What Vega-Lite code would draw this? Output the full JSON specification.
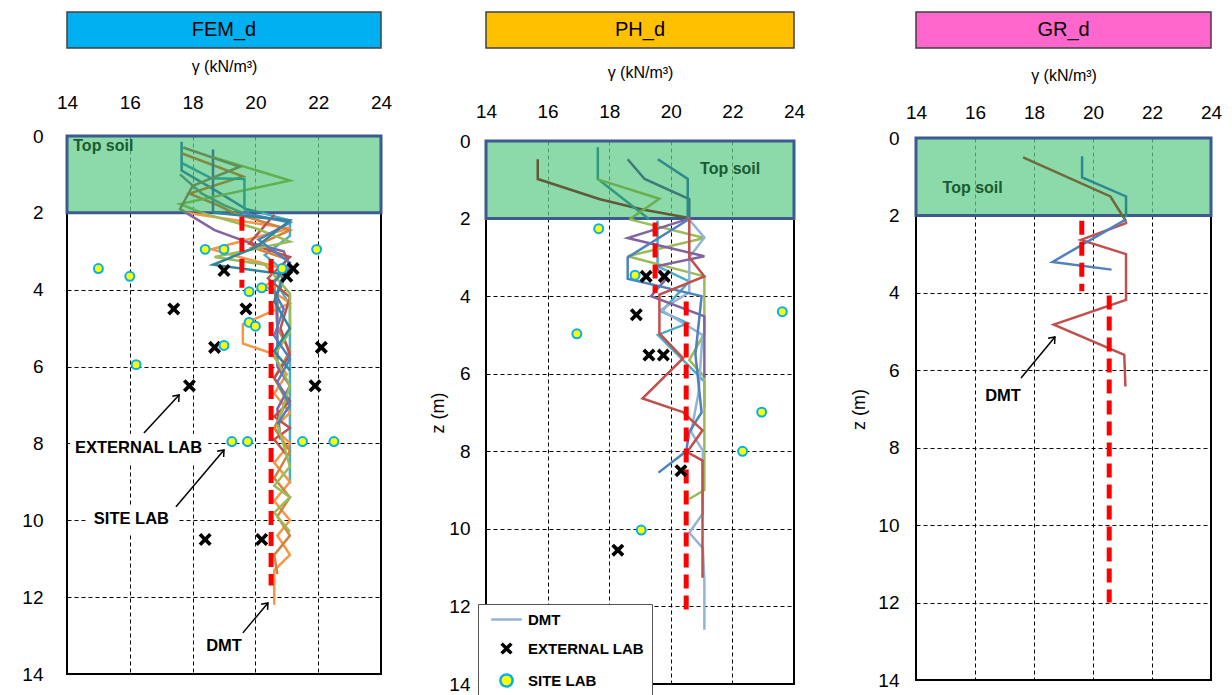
{
 "$schema": "https://vega.github.io/schema/vega-lite/v6.json",
 "padding": {"left": 20, "top": 11, "right": 5, "bottom": 5},
 "background": "white",
 "config": {
  "font": "Liberation Sans",
  "view": {"stroke": "black", "strokeWidth": 2},
  "axis": {"domain": false, "ticks": false, "grid": true, "gridColor": "#000000", "gridDash": [4, 3], "gridWidth": 1, "gridOpacity": 1, "labelFontSize": 19, "labelColor": "#000000", "labelFont": "Liberation Sans", "titleFont": "Liberation Sans", "titleFontWeight": "normal", "titleColor": "#000000", "labelFlush": false}
 },
 "datasets": {
  "soil": [{"x": 14, "x2": 24, "z": 0, "z2": 2}],
  "p1lines": [
   {"s":"t1","x":17.65,"z":0.15},{"s":"t1","x":17.65,"z":0.9},{"s":"t1","x":18.7,"z":1.4},{"s":"t1","x":19.7,"z":1.9},{"s":"t1","x":20.2,"z":2.0},
   {"s":"t2","x":17.65,"z":0.45},{"s":"t2","x":19.6,"z":1.05},{"s":"t2","x":17.9,"z":1.5},{"s":"t2","x":18.8,"z":1.8},{"s":"t2","x":19.3,"z":2.0},
   {"s":"t3","x":18.65,"z":0.35},{"s":"t3","x":18.65,"z":1.95},{"s":"t3","x":18.7,"z":2.0},
   {"s":"t4","x":18.65,"z":0.55},{"s":"t4","x":21.1,"z":1.16},{"s":"t4","x":17.6,"z":1.77},{"s":"t4","x":18.3,"z":2.0},
   {"s":"t5","x":17.65,"z":0.7},{"s":"t5","x":18.6,"z":1.1},{"s":"t5","x":19.65,"z":1.12},{"s":"t5","x":19.65,"z":1.9},{"s":"t5","x":19.8,"z":2.0},
   {"s":"t6","x":17.6,"z":1.0},{"s":"t6","x":18.3,"z":1.5},{"s":"t6","x":19.0,"z":1.8},{"s":"t6","x":19.6,"z":2.0},
   {"s":"t7","x":17.7,"z":0.3},{"s":"t7","x":19.5,"z":0.8},{"s":"t7","x":18.0,"z":1.3},{"s":"t7","x":17.6,"z":1.9},{"s":"t7","x":17.8,"z":2.0},
   {"s":"a","x":20.2,"z":2.0},{"s":"a","x":21.1,"z":2.2},{"s":"a","x":21.1,"z":2.6},{"s":"a","x":20.3,"z":3.1},{"s":"a","x":20.9,"z":3.5},{"s":"a","x":20.8,"z":4.0},{"s":"a","x":21.1,"z":4.4},{"s":"a","x":21.1,"z":9.05},
   {"s":"b","x":17.8,"z":2.0},{"s":"b","x":21.1,"z":2.4},{"s":"b","x":18.6,"z":2.95},{"s":"b","x":21.1,"z":3.5},{"s":"b","x":20.3,"z":3.9},{"s":"b","x":21.1,"z":4.35},{"s":"b","x":19.6,"z":4.9},{"s":"b","x":19.6,"z":5.4},{"s":"b","x":20.5,"z":5.65},{"s":"b","x":21.0,"z":6.2},{"s":"b","x":20.6,"z":6.7},{"s":"b","x":21.1,"z":7.2},{"s":"b","x":20.6,"z":7.6},{"s":"b","x":21.1,"z":8.0},{"s":"b","x":20.6,"z":8.5},{"s":"b","x":21.1,"z":9.0},{"s":"b","x":20.6,"z":9.5},{"s":"b","x":21.1,"z":10.0},{"s":"b","x":20.7,"z":10.4},{"s":"b","x":21.1,"z":10.9},{"s":"b","x":20.6,"z":11.3},{"s":"b","x":20.6,"z":12.2},
   {"s":"c","x":19.3,"z":2.0},{"s":"c","x":21.1,"z":2.45},{"s":"c","x":19.9,"z":2.9},{"s":"c","x":21.0,"z":3.2},{"s":"c","x":20.6,"z":3.8},{"s":"c","x":20.7,"z":5.0},{"s":"c","x":21.1,"z":5.6},{"s":"c","x":20.6,"z":6.3},{"s":"c","x":21.0,"z":6.9},{"s":"c","x":20.6,"z":7.6},{"s":"c","x":21.1,"z":8.2},{"s":"c","x":20.6,"z":8.9},{"s":"c","x":21.1,"z":9.4},{"s":"c","x":20.7,"z":9.9},{"s":"c","x":21.1,"z":10.4},{"s":"c","x":20.6,"z":10.9},{"s":"c","x":20.7,"z":11.4},
   {"s":"d","x":17.8,"z":2.0},{"s":"d","x":18.7,"z":2.45},{"s":"d","x":19.7,"z":2.75},{"s":"d","x":20.9,"z":3.0},{"s":"d","x":21.1,"z":3.4},{"s":"d","x":20.7,"z":4.1},{"s":"d","x":20.7,"z":6.0},{"s":"d","x":21.1,"z":6.5},{"s":"d","x":20.7,"z":7.1},{"s":"d","x":20.8,"z":7.9},
   {"s":"e","x":20.6,"z":2.05},{"s":"e","x":19.8,"z":2.8},{"s":"e","x":21.1,"z":3.15},{"s":"e","x":20.4,"z":3.7},{"s":"e","x":21.1,"z":4.2},{"s":"e","x":20.8,"z":5.0},{"s":"e","x":21.1,"z":5.7},{"s":"e","x":20.6,"z":6.3},{"s":"e","x":21.1,"z":6.9},{"s":"e","x":20.6,"z":7.3},{"s":"e","x":21.1,"z":7.6},{"s":"e","x":20.6,"z":7.9},{"s":"e","x":21.0,"z":8.3},
   {"s":"f","x":18.3,"z":2.0},{"s":"f","x":20.0,"z":2.4},{"s":"f","x":21.1,"z":2.75},{"s":"f","x":18.7,"z":3.15},{"s":"f","x":20.3,"z":3.35},{"s":"f","x":21.1,"z":4.1},{"s":"f","x":21.1,"z":5.1},{"s":"f","x":20.6,"z":5.7},{"s":"f","x":21.1,"z":6.5},{"s":"f","x":20.7,"z":7.5},{"s":"f","x":21.1,"z":8.6},{"s":"f","x":20.6,"z":9.1},{"s":"f","x":21.1,"z":9.4},{"s":"f","x":20.6,"z":9.8},{"s":"f","x":21.1,"z":10.3},
   {"s":"g","x":19.6,"z":2.0},{"s":"g","x":21.1,"z":2.25},{"s":"g","x":20.1,"z":2.7},{"s":"g","x":21.1,"z":3.3},{"s":"g","x":20.5,"z":3.9},{"s":"g","x":20.9,"z":4.5},{"s":"g","x":20.6,"z":5.2},{"s":"g","x":21.1,"z":5.8},{"s":"g","x":20.7,"z":6.4},{"s":"g","x":21.1,"z":7.0},{"s":"g","x":20.7,"z":7.5},
   {"s":"h","x":18.7,"z":2.0},{"s":"h","x":21.1,"z":2.2},{"s":"h","x":20.0,"z":2.9},{"s":"h","x":18.65,"z":3.35},{"s":"h","x":20.9,"z":3.6},{"s":"h","x":20.6,"z":4.3},{"s":"h","x":21.1,"z":5.0},{"s":"h","x":20.6,"z":5.6},{"s":"h","x":21.1,"z":6.1}
  ],
  "p1red": [{"x": 19.57, "z1": 2.1, "z2": 3.95}, {"x": 20.5, "z1": 3.2, "z2": 11.7}],
  "p1ext": [{"x":19.0,"z":3.5},{"x":21.2,"z":3.45},{"x":21.0,"z":3.65},{"x":17.4,"z":4.5},{"x":19.7,"z":4.5},{"x":18.7,"z":5.5},{"x":22.1,"z":5.5},{"x":17.9,"z":6.5},{"x":21.9,"z":6.5},{"x":18.4,"z":10.5},{"x":20.2,"z":10.5}],
  "p1site": [{"x":15.0,"z":3.45},{"x":16.0,"z":3.65},{"x":18.4,"z":2.95},{"x":19.0,"z":2.95},{"x":21.95,"z":2.95},{"x":20.85,"z":3.45},{"x":19.8,"z":4.05},{"x":20.2,"z":3.95},{"x":19.8,"z":4.85},{"x":20.0,"z":4.95},{"x":19.0,"z":5.45},{"x":16.2,"z":5.95},{"x":19.25,"z":7.95},{"x":19.75,"z":7.95},{"x":21.5,"z":7.95},{"x":22.5,"z":7.95}],
  "p1txt": [{"t":"EXTERNAL LAB","x":16.28,"z":8.12},{"t":"SITE LAB","x":16.05,"z":9.97},{"t":"DMT","x":19.0,"z":13.27}],
  "p1bg": [{"x":14.1,"x2":18.5,"z":7.75,"z2":8.5},{"x":14.6,"x2":17.5,"z":9.6,"z2":10.35}],
  "p1arr": [{"x":16.45,"z":7.73,"x2":17.57,"z2":6.74},{"x":17.47,"z":9.65,"x2":19.0,"z2":8.17},{"x":19.6,"z":12.93,"x2":20.4,"z2":12.15}],
  "p1soil": [{"t":"Top soil","x":14.2,"z":0.25}],
  "p2lines": [
   {"s":"u1","x":15.68,"z":0.47},{"s":"u1","x":15.68,"z":0.98},{"s":"u1","x":17.7,"z":1.5},{"s":"u1","x":19.04,"z":1.76},{"s":"u1","x":20.55,"z":1.98},
   {"s":"u2","x":17.63,"z":0.16},{"s":"u2","x":17.63,"z":0.98},{"s":"u2","x":19.3,"z":2.02},
   {"s":"u3","x":17.63,"z":0.99},{"s":"u3","x":19.63,"z":1.49},{"s":"u3","x":18.66,"z":2.02},
   {"s":"u4","x":18.6,"z":0.47},{"s":"u4","x":19.15,"z":0.98},{"s":"u4","x":20.6,"z":1.5},{"s":"u4","x":20.6,"z":1.98},
   {"s":"u5","x":19.58,"z":0.47},{"s":"u5","x":20.55,"z":0.98},{"s":"u5","x":20.55,"z":1.98},
   {"s":"vc","x":19.57,"z":2.05},{"s":"vc","x":19.57,"z":3.23},{"s":"vc","x":20.6,"z":3.62},{"s":"vc","x":19.7,"z":4.4},{"s":"vc","x":20.55,"z":4.7},{"s":"vc","x":19.58,"z":5.0},{"s":"vc","x":21.09,"z":6.2},{"s":"vc","x":21.09,"z":6.86},
   {"s":"vg","x":18.66,"z":2.02},{"s":"vg","x":21.09,"z":2.5},{"s":"vg","x":18.6,"z":2.97},{"s":"vg","x":21.09,"z":3.49},{"s":"vg","x":21.09,"z":4.96},{"s":"vg","x":20.6,"z":5.65},{"s":"vg","x":21.09,"z":6.08},{"s":"vg","x":21.09,"z":9.0},{"s":"vg","x":20.6,"z":9.23},
   {"s":"vl","x":20.55,"z":1.98},{"s":"vl","x":21.09,"z":2.49},{"s":"vl","x":20.6,"z":3.0},{"s":"vl","x":20.6,"z":3.9},{"s":"vl","x":19.68,"z":4.35},{"s":"vl","x":21.03,"z":5.0},{"s":"vl","x":20.9,"z":6.5},{"s":"vl","x":20.66,"z":7.5},{"s":"vl","x":21.04,"z":7.98},{"s":"vl","x":21.04,"z":9.6},{"s":"vl","x":20.6,"z":10.1},{"s":"vl","x":21.04,"z":10.5},{"s":"vl","x":21.09,"z":11.3},{"s":"vl","x":21.09,"z":12.6},
   {"s":"vp","x":20.6,"z":2.0},{"s":"vp","x":18.6,"z":2.5},{"s":"vp","x":21.09,"z":2.97},{"s":"vp","x":19.52,"z":3.23},{"s":"vp","x":19.8,"z":3.6},{"s":"vp","x":19.36,"z":4.0},{"s":"vp","x":21.09,"z":4.52},{"s":"vp","x":21.09,"z":6.1},
   {"s":"vb","x":20.6,"z":2.01},{"s":"vb","x":18.6,"z":3.0},{"s":"vb","x":18.6,"z":3.55},{"s":"vb","x":21.0,"z":4.0},{"s":"vb","x":20.8,"z":5.5},{"s":"vb","x":21.0,"z":7.0},{"s":"vb","x":20.6,"z":7.5},{"s":"vb","x":20.5,"z":8.0},{"s":"vb","x":19.6,"z":8.55},
   {"s":"vr","x":20.6,"z":1.98},{"s":"vr","x":20.6,"z":3.0},{"s":"vr","x":21.09,"z":3.49},{"s":"vr","x":19.63,"z":3.96},{"s":"vr","x":19.63,"z":4.96},{"s":"vr","x":20.4,"z":5.6},{"s":"vr","x":19.08,"z":6.64},{"s":"vr","x":20.39,"z":6.99},{"s":"vr","x":21.03,"z":7.46},{"s":"vr","x":20.53,"z":8.02},{"s":"vr","x":21.03,"z":8.24},{"s":"vr","x":21.03,"z":11.26}
  ],
  "p2red": [{"x": 19.49, "z1": 2.1, "z2": 3.92}, {"x": 20.5, "z1": 4.14, "z2": 12.12}],
  "p2pts": [
   {"k":"EXTERNAL LAB","x":19.2,"z":3.49},{"k":"EXTERNAL LAB","x":19.79,"z":3.49},{"k":"EXTERNAL LAB","x":18.88,"z":4.48},{"k":"EXTERNAL LAB","x":19.29,"z":5.52},{"k":"EXTERNAL LAB","x":19.76,"z":5.52},{"k":"EXTERNAL LAB","x":20.33,"z":8.5},{"k":"EXTERNAL LAB","x":18.28,"z":10.55},
   {"k":"SITE LAB","x":17.66,"z":2.26},{"k":"SITE LAB","x":18.84,"z":3.46},{"k":"SITE LAB","x":16.95,"z":4.97},{"k":"SITE LAB","x":23.62,"z":4.4},{"k":"SITE LAB","x":22.95,"z":6.99},{"k":"SITE LAB","x":22.33,"z":8.0},{"k":"SITE LAB","x":19.04,"z":10.03}
  ],
  "p2soil": [{"t":"Top soil","x":20.95,"z":0.73}],
  "p3lines": [
   {"s":"w1","x":17.63,"z":0.5},{"s":"w1","x":20.59,"z":1.51},{"s":"w1","x":21.12,"z":2.15},
   {"s":"w2","x":19.63,"z":0.47},{"s":"w2","x":19.63,"z":1.02},{"s":"w2","x":21.12,"z":1.51},{"s":"w2","x":21.12,"z":2.05},
   {"s":"xr","x":21.12,"z":2.15},{"s":"xr","x":21.12,"z":2.2},{"s":"xr","x":19.59,"z":2.63},{"s":"xr","x":21.12,"z":3.0},{"s":"xr","x":21.12,"z":4.18},{"s":"xr","x":18.67,"z":4.82},{"s":"xr","x":21.06,"z":5.6},{"s":"xr","x":21.1,"z":6.42},
   {"s":"xb","x":21.12,"z":2.1},{"s":"xb","x":18.63,"z":3.2},{"s":"xb","x":20.63,"z":3.4}
  ],
  "p3red": [{"x": 19.62, "z1": 2.14, "z2": 3.96}, {"x": 20.55, "z1": 4.07, "z2": 12.0}],
  "p3txt": [{"t":"DMT","x":16.95,"z":6.67}],
  "p3arr": [{"x":17.56,"z":6.2,"x2":18.71,"z2":5.14}],
  "p3soil": [{"t":"Top soil","x":14.9,"z":1.29}]
 },
 "spacing": 35,
 "resolve": {"scale": {"color": "independent", "shape": "independent", "fill": "independent", "stroke": "independent"}},
 "hconcat": [
  {
   "spacing": 8,
   "resolve": {"scale": {"color": "independent", "shape": "independent", "fill": "independent", "stroke": "independent"}},
   "vconcat": [
    {"width": 314, "height": 36, "view": {"fill": "#00b0f0", "stroke": "#404040", "strokeWidth": 1.5},
     "data": {"values": [{"t": "FEM_d"}]},
     "mark": {"type": "text", "fontSize": 20, "font": "Liberation Sans", "color": "#000000"},
     "encoding": {"text": {"field": "t"}}},
    {"width": 314, "height": 538,
     "layer": [
      {"data": {"name": "soil"}, "mark": {"type": "rect", "fill": "#66cc8e", "fillOpacity": 0.75, "stroke": "#3d5b8e", "strokeWidth": 3},
       "encoding": {
        "x": {"field": "x", "type": "quantitative", "scale": {"domain": [14, 24], "nice": false, "zero": false}, "axis": {"orient": "top", "values": [14, 16, 18, 20, 22, 24], "title": "γ (kN/m³)", "titleFontSize": 16, "labelPadding": 24, "titlePadding": 19}},
        "x2": {"field": "x2"},
        "y": {"field": "z", "type": "quantitative", "scale": {"domain": [0, 14], "reverse": true, "nice": false, "zero": false}, "axis": {"values": [0, 2, 4, 6, 8, 10, 12, 14], "title": null, "labelPadding": 24}},
        "y2": {"field": "z2"}}},
      {"data": {"name": "p1bg"}, "mark": {"type": "rect", "fill": "white"},
       "encoding": {"x": {"field": "x", "type": "quantitative"}, "x2": {"field": "x2"}, "y": {"field": "z", "type": "quantitative"}, "y2": {"field": "z2"}}},
      {"data": {"name": "p1lines"}, "mark": {"type": "line", "strokeWidth": 2.5},
       "encoding": {"x": {"field": "x", "type": "quantitative"}, "y": {"field": "z", "type": "quantitative"},
        "color": {"field": "s", "type": "nominal", "legend": null, "scale": {"domain": ["t1","t2","t3","t4","t5","t6","t7","a","b","c","d","e","f","g","h"], "range": ["#2e8f8a","#7f8a3a","#3a7f86","#5fb04f","#2aa08a","#4a9a70","#5f8f5a","#4bacc6","#f79646","#d2843c","#8064a2","#c0504d","#9bbb59","#4f81bd","#31859c"]}},
        "order": {"field": "z", "type": "quantitative"}}},
      {"data": {"name": "p1red"}, "mark": {"type": "rule", "color": "#ff0000", "strokeWidth": 5, "strokeDash": [14, 7]},
       "encoding": {"x": {"field": "x", "type": "quantitative"}, "y": {"field": "z1", "type": "quantitative"}, "y2": {"field": "z2"}}},
      {"data": {"name": "p1ext"}, "mark": {"type": "point", "shape": "M-1,-0.6L-0.6,-1L0,-0.4L0.6,-1L1,-0.6L0.4,0L1,0.6L0.6,1L0,0.4L-0.6,1L-1,0.6L-0.4,0Z", "filled": true, "color": "#000000", "size": 170, "opacity": 1, "strokeWidth": 0},
       "encoding": {"x": {"field": "x", "type": "quantitative"}, "y": {"field": "z", "type": "quantitative"}}},
      {"data": {"name": "p1site"}, "mark": {"type": "point", "shape": "circle", "filled": true, "fill": "#ffff00", "stroke": "#00b0f0", "strokeWidth": 2, "size": 80, "opacity": 1},
       "encoding": {"x": {"field": "x", "type": "quantitative"}, "y": {"field": "z", "type": "quantitative"}}},
      {"data": {"name": "p1arr"}, "mark": {"type": "rule", "color": "#000000", "strokeWidth": 1.5},
       "encoding": {"x": {"field": "x", "type": "quantitative"}, "x2": {"field": "x2"}, "y": {"field": "z", "type": "quantitative"}, "y2": {"field": "z2"}}},
      {"data": {"name": "p1arr"}, "mark": {"type": "point", "shape": "M-0.7,0.9L0,0L0.7,0.9", "filled": false, "color": "#000000", "strokeWidth": 1.5, "size": 150, "angle": 41, "opacity": 1},
       "encoding": {"x": {"field": "x2", "type": "quantitative"}, "y": {"field": "z2", "type": "quantitative"}}},
      {"data": {"name": "p1txt"}, "mark": {"type": "text", "fontWeight": "bold", "fontSize": 16.5, "font": "Liberation Sans", "color": "#000000"},
       "encoding": {"x": {"field": "x", "type": "quantitative"}, "y": {"field": "z", "type": "quantitative"}, "text": {"field": "t"}}},
      {"data": {"name": "p1soil"}, "mark": {"type": "text", "fontWeight": "bold", "fontSize": 16, "font": "Liberation Sans", "color": "#1a5c30", "align": "left"},
       "encoding": {"x": {"field": "x", "type": "quantitative"}, "y": {"field": "z", "type": "quantitative"}, "text": {"field": "t"}}}
     ]}
   ]
  },
  {
   "spacing": 43,
   "resolve": {"scale": {"color": "independent", "shape": "independent", "fill": "independent", "stroke": "independent"}},
   "hconcat": [
    {
     "spacing": 14,
     "resolve": {"scale": {"color": "independent", "shape": "independent", "fill": "independent", "stroke": "independent"}},
     "vconcat": [
      {"width": 308, "height": 36, "view": {"fill": "#ffc000", "stroke": "#404040", "strokeWidth": 1.5},
       "data": {"values": [{"t": "PH_d"}]},
       "mark": {"type": "text", "fontSize": 20, "font": "Liberation Sans", "color": "#000000"},
       "encoding": {"text": {"field": "t"}}},
      {"width": 308, "height": 543,
       "layer": [
        {"data": {"name": "soil"}, "mark": {"type": "rect", "fill": "#66cc8e", "fillOpacity": 0.75, "stroke": "#3d5b8e", "strokeWidth": 3},
         "encoding": {
          "x": {"field": "x", "type": "quantitative", "scale": {"domain": [14, 24], "nice": false, "zero": false}, "axis": {"orient": "top", "values": [14, 16, 18, 20, 22, 24], "title": "γ (kN/m³)", "titleFontSize": 16, "labelPadding": 20, "titlePadding": 22}},
          "x2": {"field": "x2"},
          "y": {"field": "z", "type": "quantitative", "scale": {"domain": [0, 14], "reverse": true, "nice": false, "zero": false}, "axis": {"values": [0, 2, 4, 6, 8, 10, 12, 14], "title": "z (m)", "titleFontSize": 18, "titlePadding": 1, "labelPadding": 16}},
          "y2": {"field": "z2"}}},
        {"data": {"name": "p2lines"}, "mark": {"type": "line", "strokeWidth": 2.5},
         "encoding": {"x": {"field": "x", "type": "quantitative"}, "y": {"field": "z", "type": "quantitative"},
          "color": {"field": "s", "type": "nominal", "legend": null, "scale": {"domain": ["u1","u2","u3","u4","u5","vc","vg","vl","vp","vb","vr"], "range": ["#5e5a3a","#2e9a80","#6aae50","#3d7a7a","#2e8a8a","#4bacc6","#9bbb59","#95b3d7","#8064a2","#4f81bd","#c0504d"]}},
          "order": {"field": "z", "type": "quantitative"}}},
        {"data": {"name": "p2red"}, "mark": {"type": "rule", "color": "#ff0000", "strokeWidth": 5, "strokeDash": [14, 7]},
         "encoding": {"x": {"field": "x", "type": "quantitative"}, "y": {"field": "z1", "type": "quantitative"}, "y2": {"field": "z2"}}},
        {"data": {"name": "p2pts"}, "transform": [{"filter": "datum.k === 'SITE LAB'"}],
         "mark": {"type": "point", "filled": true, "size": 80, "opacity": 1, "strokeWidth": 2},
         "encoding": {"x": {"field": "x", "type": "quantitative"}, "y": {"field": "z", "type": "quantitative"},
          "shape": {"field": "k", "type": "nominal", "scale": {"domain": ["DMT", "EXTERNAL LAB", "SITE LAB"], "range": ["M-2.5,0L2.5,0", "M-1,-0.6L-0.6,-1L0,-0.4L0.6,-1L1,-0.6L0.4,0L1,0.6L0.6,1L0,0.4L-0.6,1L-1,0.6L-0.4,0Z", "circle"]},
           "legend": {"title": null, "orient": "none", "legendX": -8, "legendY": 463, "fillColor": "white", "strokeColor": "#555555", "padding": 8, "labelFontSize": 15, "labelFontWeight": "bold", "labelFont": "Liberation Sans", "labelColor": "#000000", "symbolSize": 150, "symbolStrokeWidth": 2.5, "symbolOffset": 13, "rowPadding": 9, "labelOffset": 14}},
          "fill": {"field": "k", "type": "nominal", "scale": {"domain": ["DMT", "EXTERNAL LAB", "SITE LAB"], "range": ["transparent", "#000000", "#ffff00"]}},
          "stroke": {"field": "k", "type": "nominal", "scale": {"domain": ["DMT", "EXTERNAL LAB", "SITE LAB"], "range": ["#95b3d7", "transparent", "#00b0f0"]}}}},
        {"data": {"name": "p2pts"}, "transform": [{"filter": "datum.k === 'EXTERNAL LAB'"}],
         "mark": {"type": "point", "filled": true, "size": 170, "opacity": 1, "strokeWidth": 2},
         "encoding": {"x": {"field": "x", "type": "quantitative"}, "y": {"field": "z", "type": "quantitative"},
          "shape": {"field": "k", "type": "nominal"},
          "fill": {"field": "k", "type": "nominal"},
          "stroke": {"field": "k", "type": "nominal"}}},
        {"data": {"name": "p2soil"}, "mark": {"type": "text", "fontWeight": "bold", "fontSize": 16, "font": "Liberation Sans", "color": "#1a5c30", "align": "left"},
         "encoding": {"x": {"field": "x", "type": "quantitative"}, "y": {"field": "z", "type": "quantitative"}, "text": {"field": "t"}}}
       ]}
     ]
    },
    {
     "spacing": 17,
     "resolve": {"scale": {"color": "independent", "shape": "independent", "fill": "independent", "stroke": "independent"}},
     "vconcat": [
      {"width": 295, "height": 36, "view": {"fill": "#ff66cc", "stroke": "#404040", "strokeWidth": 1.5},
       "data": {"values": [{"t": "GR_d"}]},
       "mark": {"type": "text", "fontSize": 20, "font": "Liberation Sans", "color": "#000000"},
       "encoding": {"text": {"field": "t"}}},
      {"width": 295, "height": 542,
       "layer": [
        {"data": {"name": "soil"}, "mark": {"type": "rect", "fill": "#66cc8e", "fillOpacity": 0.75, "stroke": "#3d5b8e", "strokeWidth": 3},
         "encoding": {
          "x": {"field": "x", "type": "quantitative", "scale": {"domain": [14, 24], "nice": false, "zero": false}, "axis": {"orient": "top", "values": [14, 16, 18, 20, 22, 24], "title": "γ (kN/m³)", "titleFontSize": 16, "labelPadding": 16, "titlePadding": 20}},
          "x2": {"field": "x2"},
          "y": {"field": "z", "type": "quantitative", "scale": {"domain": [0, 14], "reverse": true, "nice": false, "zero": false}, "axis": {"values": [0, 2, 4, 6, 8, 10, 12, 14], "title": "z (m)", "titleFontSize": 18, "titlePadding": 9, "labelPadding": 17}},
          "y2": {"field": "z2"}}},
        {"data": {"name": "p3lines"}, "mark": {"type": "line", "strokeWidth": 2.5},
         "encoding": {"x": {"field": "x", "type": "quantitative"}, "y": {"field": "z", "type": "quantitative"},
          "color": {"field": "s", "type": "nominal", "legend": null, "scale": {"domain": ["w1","w2","xr","xb"], "range": ["#6f6a3c","#2a8a8f","#c0504d","#4f81bd"]}},
          "order": {"field": "z", "type": "quantitative"}}},
        {"data": {"name": "p3red"}, "mark": {"type": "rule", "color": "#ff0000", "strokeWidth": 5, "strokeDash": [14, 7]},
         "encoding": {"x": {"field": "x", "type": "quantitative"}, "y": {"field": "z1", "type": "quantitative"}, "y2": {"field": "z2"}}},
        {"data": {"name": "p3arr"}, "mark": {"type": "rule", "color": "#000000", "strokeWidth": 1.5},
         "encoding": {"x": {"field": "x", "type": "quantitative"}, "x2": {"field": "x2"}, "y": {"field": "z", "type": "quantitative"}, "y2": {"field": "z2"}}},
        {"data": {"name": "p3arr"}, "mark": {"type": "point", "shape": "M-0.7,0.9L0,0L0.7,0.9", "filled": false, "color": "#000000", "strokeWidth": 1.5, "size": 150, "angle": 41, "opacity": 1},
         "encoding": {"x": {"field": "x2", "type": "quantitative"}, "y": {"field": "z2", "type": "quantitative"}}},
        {"data": {"name": "p3txt"}, "mark": {"type": "text", "fontWeight": "bold", "fontSize": 16.5, "font": "Liberation Sans", "color": "#000000"},
         "encoding": {"x": {"field": "x", "type": "quantitative"}, "y": {"field": "z", "type": "quantitative"}, "text": {"field": "t"}}},
        {"data": {"name": "p3soil"}, "mark": {"type": "text", "fontWeight": "bold", "fontSize": 16, "font": "Liberation Sans", "color": "#1a5c30", "align": "left"},
         "encoding": {"x": {"field": "x", "type": "quantitative"}, "y": {"field": "z", "type": "quantitative"}, "text": {"field": "t"}}}
       ]}
     ]
    }
   ]
  }
 ]
}
